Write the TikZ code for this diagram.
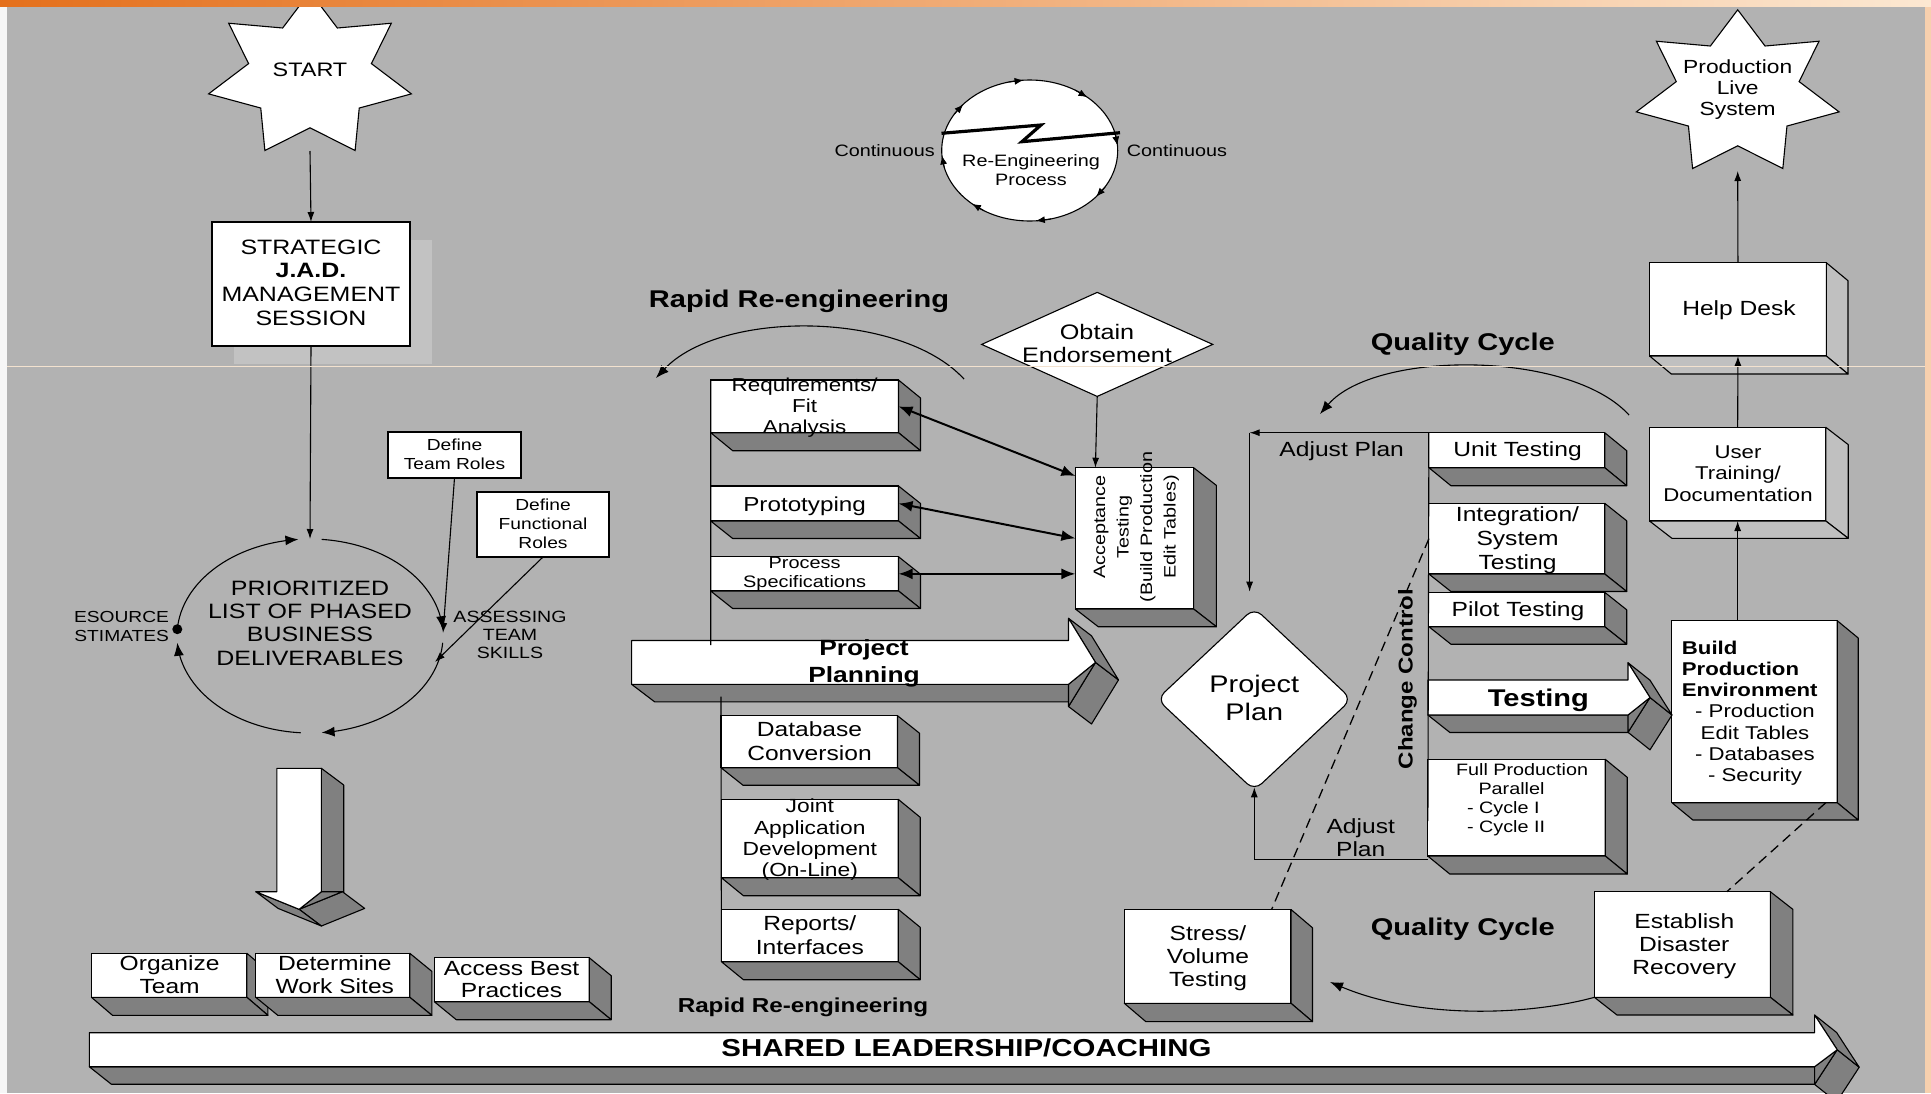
\documentclass[tikz,border=0pt]{standalone}
\usepackage{fontspec}
\setmainfont{Liberation Sans}[FakeStretch=1.2]
\usetikzlibrary{arrows.meta, shapes.geometric, calc}

\definecolor{slidegray}{HTML}{B2B2B2}
\definecolor{facedark}{HTML}{808080}
\definecolor{facelight}{HTML}{C0C0C0}
\definecolor{shadowgray}{HTML}{C2C2C2}
\definecolor{bandorange}{HTML}{E4701C}
\definecolor{bandpeach}{HTML}{FCE8D2}
\definecolor{rulepeach}{HTML}{F3E2CF}

\newcommand{\setfs}[2]{\fontsize{#1pt}{#2pt}\selectfont}

\tikzset{
  tbox/.style={rectangle, draw=black, fill=white, line width=1.1pt, inner sep=0pt, outer sep=0pt},
  txt/.style={inner sep=0pt, outer sep=0pt, align=center, text=black},
  face/.style={draw=black, fill=facedark, line width=1.1pt, line join=round},
  paleface/.style={face, fill=facelight},
  frontface/.style={draw=black, fill=white, line width=1.1pt, line join=round},
  link/.style={draw=black, line width=1.1pt, -{Latex[length=10pt, width=7pt]}},
  plainlink/.style={draw=black, line width=1.1pt},
  twoway/.style={draw=black, line width=2pt, {Latex[length=14pt, width=11pt]}-{Latex[length=14pt, width=11pt]}},
  cyclearc/.style={draw=black, line width=1.1pt, -{Latex[length=13pt, width=10pt]}},
  dashlink/.style={draw=black, line width=1.3pt, dash pattern=on 10pt off 6pt},
}

% box with extruded right and bottom faces: name, cx, cy, w, h, dx, dy, face style
\newcommand{\slabbox}[8]{%
  \node[tbox, minimum width=#4pt, minimum height=#5pt] (#1) at (#2,#3) {};
  \filldraw[#8] (#1.north east) -- ++(#6,#7) -- ([shift={(#6,#7)}]#1.south east) -- (#1.south east) -- cycle;
  \filldraw[#8] (#1.south west) -- ++(#6,#7) -- ([shift={(#6,#7)}]#1.south east) -- (#1.south east) -- cycle;
}

% flat right-pointing block arrow with depth: L, T, B, R, head top, tip x, dx, dy
\newcommand{\flatarrowshape}[8]{%
  \pgfmathsetmacro{\arwmid}{(#2+#3)/2}%
  \pgfmathsetmacro{\arwlow}{#2+#3-#5}%
  \filldraw[face] (#1,#3) -- (#4,#3) -- ({#4+#7},{#3+#8}) -- ({#1+#7},{#3+#8}) -- cycle;
  \filldraw[face] (#6,\arwmid) -- (#4,\arwlow) -- ({#4+#7},{\arwlow+#8}) -- ({#6+#7},{\arwmid+#8}) -- cycle;
  \filldraw[face] (#4,#5) -- (#6,\arwmid) -- ({#6+#7},{\arwmid+#8}) -- ({#4+#7},{#5+#8}) -- cycle;
  \filldraw[face] (#4,#3) -- (#6,\arwmid) -- (#4,\arwlow) -- cycle;
  \filldraw[frontface] (#1,#2) -- (#4,#2) -- (#4,#5) -- (#6,\arwmid) -- (#4,#3) -- (#1,#3) -- cycle;
}

% seven-pointed star outline centred at (#1,#2)
\newcommand{\sevenstar}[2]{%
  \filldraw[fill=white, draw=black, line width=1.1pt]
    plot[samples at={0,...,13}]
      ({#1+ifthenelse(mod(\x,2)==0,104,63)*cos(90+\x*360/14)},
       {#2-ifthenelse(mod(\x,2)==0,83.5,52.5)*sin(90+\x*360/14)}) -- cycle;
}

\begin{document}
\begin{tikzpicture}[x=1pt, y=-1pt]
\useasboundingbox (0,0) rectangle (1931,1093);
\fill[slidegray] (0,0) rectangle (1931,1093);

% ================= left column =================
\sevenstar{310}{75.3}
\node[txt, font=\setfs{19.5}{22}] (start) at (310,70) {START};
\coordinate (start-foot) at (310,151);

\fill[shadowgray] (234,240) rectangle (432,364);
\node[tbox, minimum width=198pt, minimum height=124pt] (strategic) at (311,284) {};
\node[txt, font=\setfs{20.8}{23.7}] (strategic-t) at (311,282.5)
  {STRATEGIC\\\textbf{J.A.D.}\\MANAGEMENT\\SESSION};
\draw[link] (start-foot) -- (strategic.north);

% planning cycle
\node[txt, font=\setfs{20.8}{23.3}] (prio) at (310,623)
  {PRIORITIZED\\LIST OF PHASED\\BUSINESS\\DELIVERABLES};
\coordinate (prio-top) at (310,539);
\draw[link] (strategic.south) -- (prio-top);
\draw[cyclearc] plot[domain=176:95, samples=40] ({310+133*cos(\x)},{636-97*sin(\x)});
\draw[cyclearc] plot[domain=85:4, samples=40] ({310+133*cos(\x)},{636-97*sin(\x)});
\draw[cyclearc] plot[domain=-4:-85, samples=40] ({310+133*cos(\x)},{636-97*sin(\x)});
\draw[cyclearc] plot[domain=-94:-176, samples=40] ({310+133*cos(\x)},{636-97*sin(\x)});
\fill[black] (177.3,629.2) circle[radius=5pt];

\node[txt, anchor=east, align=right, font=\setfs{16}{19}] (resource) at (169,626.5) {ESOURCE\\STIMATES};
\node[txt, font=\setfs{16.3}{18}] (assess) at (510,635) {ASSESSING\\TEAM\\SKILLS};

\node[tbox, minimum width=133pt, minimum height=46pt] (teamroles) at (454.5,455) {};
\node[txt, font=\setfs{16}{18.5}] (teamroles-t) at (454.5,454.5) {Define\\Team Roles};
\node[tbox, minimum width=132pt, minimum height=65pt] (funcroles) at (543,524.5) {};
\node[txt, font=\setfs{16}{19}] (funcroles-t) at (543,524) {Define\\Functional\\Roles};
\coordinate (tr-end) at (443,633);
\coordinate (fr-end) at (435,662);
\draw[link] (teamroles.south) -- (tr-end);
\draw[link] (funcroles.south) -- (fr-end);

% hollow block arrow pointing down
\filldraw[face] (321.4,768.3) -- (343.7,785) -- (343.7,908.4) -- (321.4,891.7) -- cycle;
\filldraw[face] (342.4,891.7) -- (299.1,909.3) -- (321.4,926) -- (364.7,908.4) -- cycle;
\filldraw[face] (299.1,909.3) -- (255.8,891.7) -- (278.1,908.4) -- (321.4,926) -- cycle;
\filldraw[face] (321.4,891.7) -- (342.4,891.7) -- (299.1,909.3) -- cycle;
\filldraw[frontface] (276.8,768.3) -- (321.4,768.3) -- (321.4,891.7) -- (299.1,909.3)
  -- (255.8,891.7) -- (276.8,891.7) -- cycle;

\slabbox{org}{169.2}{975.3}{155.4}{44}{21}{18}{face}
\slabbox{worksites}{332.8}{975.3}{154}{44}{22}{18}{face}
\slabbox{bestprac}{511.75}{979.7}{154.9}{44}{22}{18}{face}
\node[txt, font=\setfs{20.5}{23.3}] (org-t) at (169.6,974.4) {Organize\\Team};
\node[txt, font=\setfs{20.5}{23.3}] (worksites-t) at (334.8,974.4) {Determine\\Work Sites};
\node[txt, font=\setfs{20.5}{21.7}] (bestprac-t) at (511.5,979.2) {Access Best\\Practices};

% ================= centre column =================
\node[txt, font=\bfseries\setfs{24.2}{28}] (rapid-top) at (799,301) {Rapid Re-engineering};
\coordinate (rr-start) at (964,379);
\coordinate (rr-end) at (656,378);
\draw[cyclearc] (rr-start) .. controls (900,310) and (720,310) .. (rr-end);

% continuous re-engineering wheel
\node[ellipse, draw=black, fill=white, line width=1.1pt, minimum width=176pt,
      minimum height=141pt, inner sep=0pt] (reeng) at (1029.7,150.5) {};
\draw[line width=3.2pt, line join=miter] (941.5,133.3) -- (1041,125) -- (1021.9,141.7) -- (1120,132.7);
\foreach \a in {-4,41,...,311} {
  \draw[line width=1pt, -{Latex[length=9pt, width=7pt]}]
    ({1029.7+88*cos(\a-10)},{150.5+70.5*sin(\a-10)}) -- ({1029.7+88*cos(\a)},{150.5+70.5*sin(\a)});
}
\node[txt, font=\setfs{16.5}{19}] (reeng-t) at (1031,170) {Re-Engineering\\Process};
\node[txt, font=\setfs{16.5}{19}] (cont-left) at (884.6,151) {Continuous};
\node[txt, font=\setfs{16.5}{19}] (cont-right) at (1177,151) {Continuous};

\node[diamond, draw=black, fill=white, line width=1.1pt, aspect=1, minimum width=231.5pt,
      minimum height=104.5pt, inner sep=0pt] (endorse) at (1097.2,344.4) {};
\node[txt, font=\setfs{21}{23.3}] (endorse-t) at (1097,343.4) {Obtain\\Endorsement};

% project planning band
\flatarrowshape{631.6}{640.5}{684.3}{1068.5}{618.3}{1095.5}{23}{17.5}
\node[txt, font=\bfseries\setfs{22}{26.7}] (planning-t) at (864,663.5) {Project\\Planning};

\slabbox{req}{804.6}{406.35}{187.8}{52.7}{22}{18}{face}
\slabbox{proto}{804.6}{503.5}{187.8}{35}{22}{17.5}{face}
\slabbox{procspec}{804.6}{573.85}{187.8}{34.3}{22}{17.5}{face}
\node[txt, font=\setfs{18.7}{20.8}] (req-t) at (804.6,407.8) {Requirements/\\Fit\\Analysis};
\node[txt, font=\setfs{20.2}{24}] (proto-t) at (804.6,506) {Prototyping};
\node[txt, font=\setfs{16.6}{19}] (procspec-t) at (804.6,574.5) {Process\\Specifications};

\coordinate (req-foot) at (710.7,645);
\draw[plainlink] (req.north west) -- (req-foot);

\slabbox{dbconv}{809.25}{741.7}{176.5}{52}{22}{17.5}{face}
\slabbox{jad}{809.8}{838.5}{176.8}{78.4}{22}{18}{face}
\slabbox{reports}{809.8}{935.5}{176.8}{52.4}{22}{18}{face}
\node[txt, font=\setfs{20.5}{24.3}] (dbconv-t) at (809.5,741.2) {Database\\Conversion};
\node[txt, font=\setfs{19}{21.3}] (jad-t) at (809.8,840) {Joint\\Application\\Development\\(On-Line)};
\node[txt, font=\setfs{20.5}{23.4}] (reports-t) at (809.8,935) {Reports/\\Interfaces};
\coordinate (db-head) at (721,696.7);
\draw[plainlink] (db-head) -- (reports.south west);
\node[txt, font=\bfseries\setfs{20.2}{24}] (rapid-bottom) at (803,1007.7) {Rapid Re-engineering};

\slabbox{accept}{1134.5}{538.35}{118.2}{141.3}{22.8}{17.7}{face}
\node[txt, rotate=90, font=\setfs{16.5}{23.5}] (accept-t) at (1136.5,527)
  {Acceptance\\Testing\\(Build Production\\Edit Tables)};
\draw[link] (endorse.south) -- ([xshift=20pt]accept.north west);
\draw[twoway] (req.east) -- ([yshift=-8.3pt]accept.north west);
\draw[twoway] (proto.east) -- (accept.west);
\draw[twoway] (procspec.east) -- (procspec.east -| accept.west);

% ================= right column =================
\node[txt, font=\bfseries\setfs{24.2}{28}] (qc-top) at (1462.8,344.5) {Quality Cycle};
\coordinate (qt-start) at (1629,415);
\coordinate (qt-end) at (1320,414);
\draw[cyclearc] (qt-start) .. controls (1570,350) and (1375,350) .. (qt-end);

\sevenstar{1737.7}{93.3}
\node[txt, font=\setfs{19}{20.8}] (pls) at (1737.7,89.5) {Production\\Live\\System};
\coordinate (pls-foot) at (1737.7,171);

\slabbox{helpdesk}{1737.95}{309.35}{176.7}{93.3}{21.7}{18}{paleface}
\node[txt, font=\setfs{20.5}{24}] (helpdesk-t) at (1739,310.3) {Help Desk};
\slabbox{usertrain}{1737.65}{474.15}{176.3}{93.7}{22.4}{17.3}{paleface}
\node[txt, font=\setfs{18.5}{21.6}] (usertrain-t) at (1738,473.4) {User\\Training/\\Documentation};
\slabbox{buildenv}{1754.55}{711.7}{165.3}{182}{21}{17.3}{face}
\node[txt, anchor=west, align=left, font=\bfseries\setfs{18.5}{21.3}] (buildenv-head) at (1681.9,668.9)
  {Build\\Production\\Environment};
\node[txt, font=\setfs{18.5}{21.3}] (buildenv-list) at (1755,745)
  {- Production\\Edit Tables\\- Databases\\- Security};
\draw[link] (helpdesk.north) -- (pls-foot);
\draw[link] (usertrain.north) -- (helpdesk.south);
\draw[link] (buildenv.north -| usertrain.south) -- (usertrain.south);

% testing stack
\slabbox{unittest}{1516.8}{450.2}{175.8}{35}{22}{18}{face}
\slabbox{integ}{1516.8}{538.65}{175.8}{70.7}{22}{17.5}{face}
\slabbox{pilot}{1516.8}{609.5}{175.8}{34.4}{22}{17.5}{face}
\flatarrowshape{1427.9}{680}{715}{1628}{662.7}{1650}{22}{17.5}
\slabbox{fullprod}{1516.5}{807.65}{177.5}{96.7}{22}{18}{face}
\node[txt, font=\setfs{20.5}{24}] (unittest-t) at (1517.5,451.3) {Unit Testing};
\node[txt, font=\setfs{20.5}{23.7}] (integ-t) at (1517.5,540) {Integration/\\System\\Testing};
\node[txt, font=\setfs{20.5}{24}] (pilot-t) at (1518,611) {Pilot Testing};
\node[txt, font=\bfseries\setfs{24.2}{28}] (testing-t) at (1538.4,700) {Testing};
\node[txt, anchor=west, align=left, font=\setfs{16.5}{18.7}] (fullprod-t) at (1456,799.7)
  {Full Production\\\hspace*{22.5pt}Parallel\\\hspace*{11pt}- Cycle I\\\hspace*{11pt}- Cycle II};

\node[txt, rotate=90, font=\bfseries\setfs{20}{24}] (chgctl) at (1407.5,679) {Change Control};
\coordinate (cc-foot) at (1427.9,821);
\draw[plainlink] (unittest.north west) -- (cc-foot);

% project plan decision
\node[diamond, draw=black, fill=white, line width=1.1pt, aspect=1, minimum width=195pt,
      minimum height=183pt, inner sep=0pt, rounded corners=10pt] (projplan) at (1254.3,699.2) {};
\node[txt, font=\setfs{24}{27.7}] (projplan-t) at (1254.3,697.8) {Project\\Plan};

\coordinate (adj-corner) at (1249.6,432.7);
\coordinate (pp-above) at (1249.6,591.7);
\draw[link] (unittest.north west) -- (adj-corner);
\draw[link] (adj-corner) -- (pp-above);
\node[txt, font=\setfs{20.5}{23.6}] (adjust-top) at (1341.7,451) {Adjust Plan};

\coordinate (fp-foot) at (1427.9,859.3);
\draw[link] (fp-foot) -| ([yshift=4pt]projplan.south);
\node[txt, font=\setfs{20.5}{23.6}] (adjust-bottom) at (1360.7,837.5) {Adjust\\Plan};

% quality cycle, lower half
\slabbox{stress}{1207.65}{956.4}{166.7}{93.8}{21.5}{18.3}{face}
\node[txt, font=\setfs{20.5}{23.3}] (stress-t) at (1208,958) {Stress/\\Volume\\Testing};
\slabbox{disaster}{1682.35}{944.5}{175.9}{105.6}{22.6}{17.7}{face}
\node[txt, font=\setfs{20.5}{23.3}] (disaster-t) at (1684.3,946) {Establish\\Disaster\\Recovery};
\node[txt, font=\bfseries\setfs{24.2}{28}] (qc-bottom) at (1462.8,929) {Quality Cycle};
\coordinate (qb-end) at (1330,982);
\draw[cyclearc] (disaster.south west) .. controls (1530,1015) and (1420,1020) .. (qb-end);

\draw[dashlink] (integ.west) -- ([xshift=-19.4pt]stress.north east);
\draw[dashlink] ([xshift=-11.4pt]buildenv.south east) -- ([xshift=44.5pt]disaster.north);

% shared leadership band
\flatarrowshape{89.3}{1032.7}{1066.7}{1814.6}{1015}{1837.2}{22}{17.5}
\node[txt, font=\bfseries\setfs{24.5}{28}] (shared) at (966.5,1048.3) {SHARED LEADERSHIP/COACHING};

% slide template trim
\draw[rulepeach, line width=1pt] (0,366) -- (1931,366);
\fill[white!88!slidegray] (0,0) rectangle (7,1093);
\fill[bandpeach!80!bandorange] (1925,0) rectangle (1931,1093);
\shade[left color=bandorange, right color=bandpeach] (0,0) rectangle (1931,6);
\end{tikzpicture}
\end{document}
